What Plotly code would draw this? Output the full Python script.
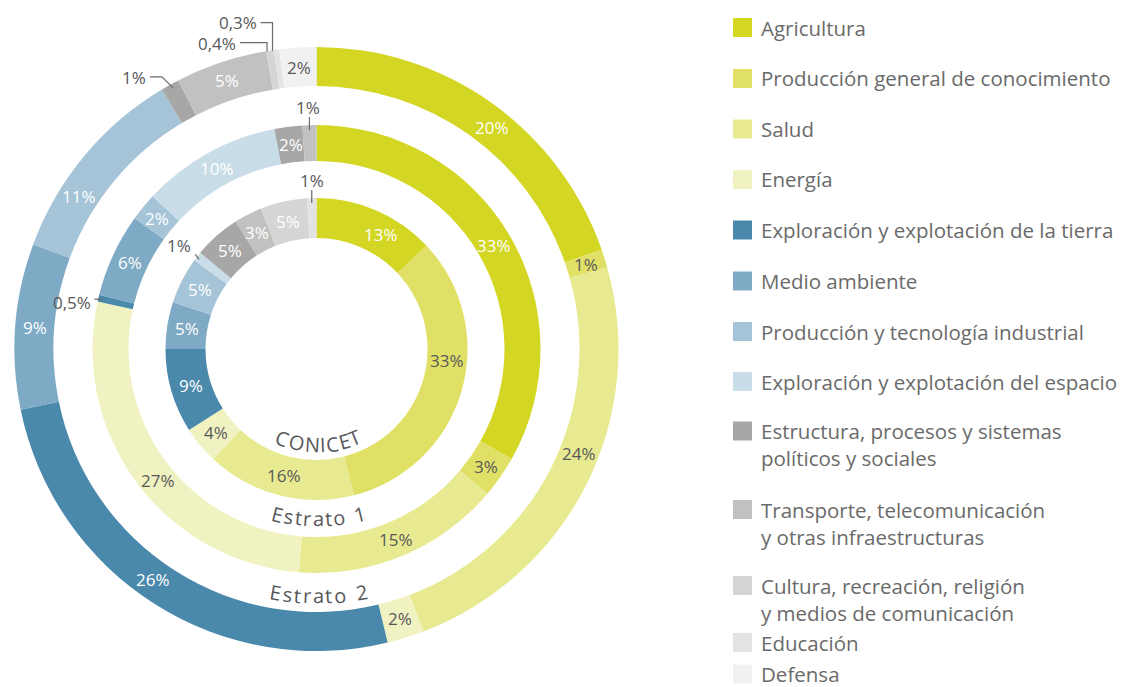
import math
import plotly.graph_objects as go

# ---------------- data ----------------
categories = [
    "Agricultura",
    "Producción general de conocimiento",
    "Salud",
    "Energía",
    "Exploración y explotación de la tierra",
    "Medio ambiente",
    "Producción y tecnología industrial",
    "Exploración y explotación del espacio",
    "Estructura, procesos y sistemas políticos y sociales",
    "Transporte, telecomunicación y otras infraestructuras",
    "Cultura, recreación, religión y medios de comunicación",
    "Educación",
    "Defensa",
]
legend_labels = [
    "Agricultura",
    "Producción general de conocimiento",
    "Salud",
    "Energía",
    "Exploración y explotación de la tierra",
    "Medio ambiente",
    "Producción y tecnología industrial",
    "Exploración y explotación del espacio",
    "Estructura, procesos y sistemas<br>políticos y sociales",
    "Transporte, telecomunicación<br>y otras infraestructuras",
    "Cultura, recreación, religión<br>y medios de comunicación",
    "Educación",
    "Defensa",
]
colors = [
    "#d3d622", "#e0e066", "#e8ea91", "#f0f3c1",
    "#4a88ac", "#7faac5", "#a5c4d7", "#c9dde8",
    "#a7a7a7", "#c1c1c1", "#d5d5d5", "#e3e3e3", "#f1f1f1",
]
ring_names = ["CONICET", "Estrato 1", "Estrato 2"]
conicet = [13, 33, 16, 4, 9, 5, 5, 1, 5, 3, 5, 1, 0]
estrato1 = [33, 3, 15, 27, 0.5, 6, 2, 10, 2, 1, 0, 0, 0]
estrato2 = [20, 1, 24, 2, 26, 9, 11, 0, 1, 5, 0.4, 0.3, 2]

# ---------------- layout constants ----------------
W, H = 1134, 687
OFF = 8  # page body margin of the html page
CX, CY = 316.5 - OFF, 349.0 - OFF
FONT = "Open Sans"
DARK = "#58585a"
LEG = "#6a6a6a"
rings = [
    dict(values=conicet, r_out=151, r_in=111, curve_r=96, curve_span=86),
    dict(values=estrato1, r_out=224, r_in=188, curve_r=170, curve_span=95),
    dict(values=estrato2, r_out=302, r_in=263, curve_r=247, curve_span=99),
]
dark_text = {1, 2, 3, 12}  # categories with dark label text
# small angular nudges (degrees) of some in-ring labels, as placed in the original
label_nudge = {(0, 0): 6, (0, 1): -11, (2, 0): 3, (2, 2): -5, (2, 4): 3, (2, 6): -7, (1, 3): -3}


def px(x):
    return x / W


def py(y):
    return 1 - y / H


def polar(r, ang_deg):
    a = math.radians(ang_deg)
    return CX + r * math.sin(a), CY - r * math.cos(a)


def fmt(v):
    if float(v).is_integer():
        return f"{int(v)}%"
    return f"{v}%".replace(".", ",")


# outside labels: (ring, category) -> leader line offsets relative to anchor, text pos & anchor
outside = {
    (0, 7): dict(pts=[(-2, -2), (2, 3)], text=(-4, -11), xa="right"),
    (0, 11): dict(pts=[(0, -8), (0, 5)], text=(0, -18), xa="center"),
    (1, 4): dict(pts=[(-4, 1), (4, 1)], text=(-5, 4), xa="right"),
    (1, 9): dict(pts=[(0, -8), (0, 5)], text=(-1, -18), xa="center"),
    (2, 8): dict(pts=[(3, 3), (-8, -8), (-20, -8)], text=(-22, -7), xa="right"),
    (2, 10): dict(pts=[(-3, 1), (-3, -8), (-30, -8)], text=(-32, -7), xa="right"),
    (2, 11): dict(pts=[(-4, 1), (-4, -27), (-16, -27)], text=(-18, -27), xa="right"),
}

fig = go.Figure()
annotations = []
shapes = []

for ri, ring in enumerate(rings):
    vals = ring["values"]
    R = ring["r_out"]
    fig.add_trace(go.Pie(
        values=vals,
        labels=categories,
        marker=dict(colors=colors, line=dict(width=0)),
        hole=ring["r_in"] / R,
        sort=False,
        direction="clockwise",
        rotation=0,
        textinfo="none",
        hoverinfo="label+percent",
        showlegend=False,
        name=ring_names[ri],
        domain=dict(x=[px(CX - R), px(CX + R)], y=[py(CY + R), py(CY - R)]),
    ))
    total = sum(vals)
    cum = 0.0
    rm = (ring["r_out"] + ring["r_in"]) / 2
    for ci, v in enumerate(vals):
        start = cum
        cum += v
        if v == 0:
            continue
        mid = (start + v / 2) / total * 360
        if (ri, ci) in outside:
            spec = outside[(ri, ci)]
            ax, ay = polar(R, mid)
            pts = [(ax + dx, ay + dy) for dx, dy in spec["pts"]]
            path = "M " + " L ".join(f"{px(x):.5f},{py(y):.5f}" for x, y in pts)
            shapes.append(dict(type="path", path=path, xref="paper", yref="paper",
                               line=dict(color="#6a6a6a", width=1.2)))
            tx, ty = ax + spec["text"][0], ay + spec["text"][1]
            annotations.append(dict(x=px(tx), y=py(ty), xref="paper", yref="paper",
                                    text=fmt(v), showarrow=False, xanchor=spec["xa"],
                                    yanchor="middle",
                                    font=dict(family=FONT, size=17, color=DARK)))
        else:
            x, y = polar(rm, mid + label_nudge.get((ri, ci), 0))
            col = DARK if ci in dark_text else "white"
            annotations.append(dict(x=px(x), y=py(y), xref="paper", yref="paper",
                                    text=fmt(v), showarrow=False, xanchor="center",
                                    yanchor="middle",
                                    font=dict(family=FONT, size=17, color=col)))

# curved ring titles
char_w = {"C": 0.632, "O": 0.779, "N": 0.765, "I": 0.279, "E": 0.556, "T": 0.553,
          "s": 0.479, "t": 0.361, "r": 0.408, "a": 0.556, "o": 0.600, " ": 0.30,
          "1": 0.572, "2": 0.572}
for ri, ring in enumerate(rings):
    name = ring_names[ri]
    ws = [char_w.get(c, 0.55) for c in name]
    tot = sum(ws)
    scale = ring["curve_span"] / tot
    r = ring["curve_r"]
    s = -ring["curve_span"] / 2
    for c, w in zip(name, ws):
        center = s + w * scale / 2
        s += w * scale
        if c == " ":
            continue
        alpha = center / r
        x = CX + 2 + r * math.sin(alpha)
        y = CY + r * math.cos(alpha)
        annotations.append(dict(x=px(x), y=py(y), xref="paper", yref="paper",
                                text=c, showarrow=False, xanchor="center", yanchor="middle",
                                textangle=-math.degrees(alpha),
                                font=dict(family=FONT, size=20, color=DARK)))

# custom legend (screen pixel rows, shifted by page margin)
leg_y = [27.5, 78.5, 129, 179.5, 230, 281, 331.5, 381.5, 431, 509.5, 585.5, 642.5, 674]
LH = 27
for lab, col, yc in zip(legend_labels, colors, leg_y):
    yc = yc - OFF
    shapes.append(dict(type="rect", xref="paper", yref="paper",
                       x0=px(733 - OFF), x1=px(752 - OFF), y0=py(yc + 9.5), y1=py(yc - 9.5),
                       fillcolor=col, line=dict(width=0)))
    nl = lab.count("<br>") + 1
    annotations.append(dict(x=px(760 - OFF), y=py(yc + (nl - 1) * LH / 2), xref="paper", yref="paper",
                            text=lab, showarrow=False, xanchor="left", yanchor="middle",
                            align="left", borderpad=0,
                            font=dict(family=FONT, size=20.5, color=LEG)))

fig.update_layout(
    width=W, height=H,
    margin=dict(l=0, r=0, t=0, b=0),
    paper_bgcolor="white", plot_bgcolor="white",
    annotations=annotations, shapes=shapes,
    showlegend=False,
)
fig.write_html("out.html")
